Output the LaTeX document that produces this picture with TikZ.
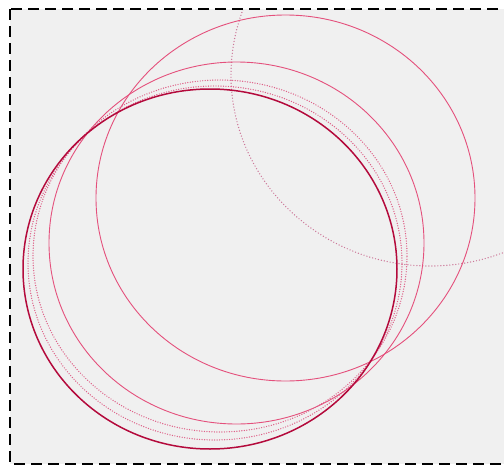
\documentclass[tikz,border=0pt]{standalone}
\definecolor{ringDark}{RGB}{180,10,60}
\definecolor{ringPink}{RGB}{228,80,124}
\definecolor{dotPink}{RGB}{222,96,136}
\definecolor{dotGrey}{RGB}{204,118,152}
\definecolor{paneGrey}{RGB}{240,240,240}
\usepackage{tikz}
\usetikzlibrary{calc}

\begin{document}
\begin{tikzpicture}[x=1pt, y=-1pt,
  pane/.style={fill=paneGrey, draw=black, line width=1.6pt, dash pattern=on 11pt off 6pt},
  mainring/.style={draw=ringDark, line width=1.5pt},
  ring/.style={draw=ringPink, line width=0.9pt},
  dotring/.style={draw=dotPink, line width=1.4pt, line cap=round, dash pattern=on 0pt off 2.5pt},
  farring/.style={draw=dotGrey, line width=1.4pt, line cap=round, dash pattern=on 0pt off 3pt}
]
  \useasboundingbox (0,0) rectangle (504,466);
  \clip (0,0) rectangle (504,466);
  \draw[pane] (10,9) rectangle (530,464);

  \coordinate (cmain)  at (210,269);
  \coordinate (cdotA)  at (215,263);
  \coordinate (cdotB)  at (220,256);
  \coordinate (cmid)   at (236.5,243);
  \coordinate (cbig)   at (285.5,198);
  \coordinate (cfar)   at (430,75);

  \begin{scope}
    \clip (11,10) rectangle (530,463);
    \draw[farring]  (cfar)  ellipse [x radius=199pt, y radius=191pt];
    \draw[ring]     (cbig)  ellipse [x radius=189.5pt, y radius=183pt];
    \draw[ring]     (cmid)  ellipse [x radius=187.5pt, y radius=181pt];
    \draw[dotring]  (cdotB) ellipse [x radius=187pt, y radius=176pt];
    \draw[dotring]  (cdotA) ellipse [x radius=187pt, y radius=177pt];
    \draw[mainring] (cmain) ellipse [x radius=187pt, y radius=180pt];
  \end{scope}
\end{tikzpicture}
\end{document}
